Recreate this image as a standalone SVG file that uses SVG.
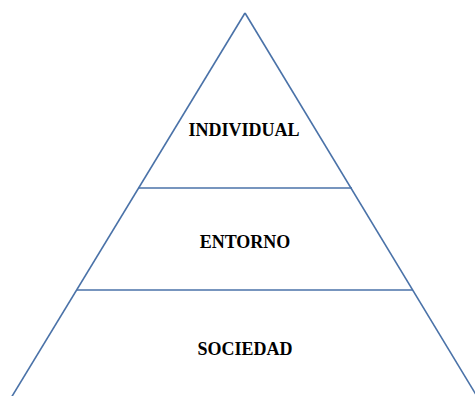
<svg xmlns="http://www.w3.org/2000/svg" width="475" height="396" viewBox="0 0 475 396">
<style>
.ln{stroke:#4a72a8;stroke-width:1.6;fill:none}
.lbl{font-family:"Liberation Serif",serif;font-weight:bold;font-size:18px;fill:#000;text-anchor:middle}
</style>
<rect width="475" height="396" fill="#fff"/>
<g id="connectors">
<line class="ln" x1="245" y1="13" x2="11" y2="398"/>
<line class="ln" x1="245" y1="13" x2="478" y2="398"/>
<line class="ln" x1="138" y1="188" x2="352" y2="188"/>
<line class="ln" x1="77" y1="290" x2="413" y2="290"/>
</g>
<g id="individual"><text class="lbl" x="244" y="136">INDIVIDUAL</text></g>
<g id="entorno"><text class="lbl" x="245" y="248">ENTORNO</text></g>
<g id="sociedad"><text class="lbl" x="245" y="355">SOCIEDAD</text></g>
</svg>
